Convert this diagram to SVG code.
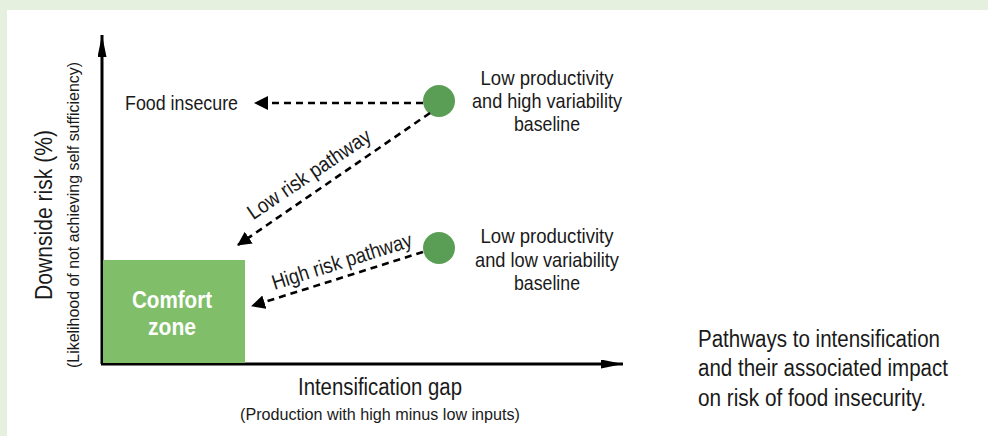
<svg xmlns="http://www.w3.org/2000/svg" width="988" height="436" viewBox="0 0 988 436">
<style>
text{font-family:"Liberation Sans",Arial,sans-serif;fill:#1a1a1a}
.lbl{font-size:21px}
.mid{text-anchor:middle}
.dash{fill:none;stroke:#000;stroke-width:2.6;stroke-dasharray:7 5}
.axis{fill:none;stroke:#000;stroke-width:3}
.dot{fill:#5a9e55}
.cz{font-size:24px;font-weight:bold;fill:#fff}
.cap{font-size:23px}
</style>
<defs>
<marker id="tri" markerUnits="userSpaceOnUse" markerWidth="16" markerHeight="16" refX="13" refY="7" orient="auto"><path d="M0,0 L14,7 L0,14 Z" fill="#000"/></marker>
<marker id="ax" markerUnits="userSpaceOnUse" markerWidth="24" markerHeight="10" refX="22" refY="4.5" orient="auto"><path d="M0,0 L22,4.5 L0,9 Z" fill="#000"/></marker>
</defs>
<rect width="988" height="436" fill="#e5f0de"/>
<rect x="7" y="10" width="981" height="426" fill="#fff"/>
<g id="axes">
<line class="axis" x1="102" y1="364" x2="102" y2="35" marker-end="url(#ax)"/>
<line class="axis" x1="101" y1="364" x2="623" y2="364" marker-end="url(#ax)"/>
</g>
<g id="comfort-zone">
<rect x="103" y="260" width="142" height="103" fill="#80be6a"/>
<text x="172" y="308" class="mid cz" textLength="80" lengthAdjust="spacingAndGlyphs">Comfort</text>
<text x="172" y="335" class="mid cz" textLength="48" lengthAdjust="spacingAndGlyphs">zone</text>
</g>
<g id="food-insecure"><text x="125" y="110" class="lbl" textLength="113" lengthAdjust="spacingAndGlyphs">Food insecure</text></g>
<g id="high-variability">
<circle class="dot" cx="439" cy="101" r="16"/>
<text x="547" y="85" class="lbl mid" textLength="133" lengthAdjust="spacingAndGlyphs">Low productivity</text>
<text x="547" y="108" class="lbl mid" textLength="150" lengthAdjust="spacingAndGlyphs">and high variability</text>
<text x="547" y="131" class="lbl mid" textLength="66" lengthAdjust="spacingAndGlyphs">baseline</text>
</g>
<g id="low-variability">
<circle class="dot" cx="439" cy="248" r="16"/>
<text x="547" y="243" class="lbl mid" textLength="133" lengthAdjust="spacingAndGlyphs">Low productivity</text>
<text x="547" y="267" class="lbl mid" textLength="144" lengthAdjust="spacingAndGlyphs">and low variability</text>
<text x="547" y="290" class="lbl mid" textLength="66" lengthAdjust="spacingAndGlyphs">baseline</text>
</g>
<g id="connectors">
<line class="dash" x1="423" y1="103" x2="255" y2="103" marker-end="url(#tri)"/>
<line class="dash" x1="430" y1="113" x2="238" y2="245" marker-end="url(#tri)"/>
<line class="dash" x1="423" y1="252" x2="252" y2="306" marker-end="url(#tri)"/>
<text x="0" y="0" class="lbl mid" transform="translate(313,180) rotate(-34)" textLength="144" lengthAdjust="spacingAndGlyphs">Low risk pathway</text>
<text x="0" y="0" class="lbl mid" transform="translate(344,268) rotate(-17.5)" textLength="146" lengthAdjust="spacingAndGlyphs">High risk pathway</text>
</g>
<g id="axis-labels">
<text x="380" y="395" class="mid" style="font-size:23px" textLength="164" lengthAdjust="spacingAndGlyphs">Intensification gap</text>
<text x="380" y="420" class="mid" style="font-size:16px" textLength="280" lengthAdjust="spacingAndGlyphs">(Production with high minus low inputs)</text>
<text x="0" y="0" class="mid" style="font-size:23px" transform="translate(52,215) rotate(-90)" textLength="170" lengthAdjust="spacingAndGlyphs">Downside risk (%)</text>
<text x="0" y="0" class="mid" style="font-size:16px" transform="translate(79,215) rotate(-90)" textLength="306" lengthAdjust="spacingAndGlyphs">(Likelihood of not achieving self sufficiency)</text>
</g>
<g id="caption">
<text x="698" y="347" class="cap" textLength="242" lengthAdjust="spacingAndGlyphs">Pathways to intensification</text>
<text x="698" y="376" class="cap" textLength="250" lengthAdjust="spacingAndGlyphs">and their associated impact</text>
<text x="698" y="406" class="cap" textLength="228" lengthAdjust="spacingAndGlyphs">on risk of food insecurity.</text>
</g>
</svg>
